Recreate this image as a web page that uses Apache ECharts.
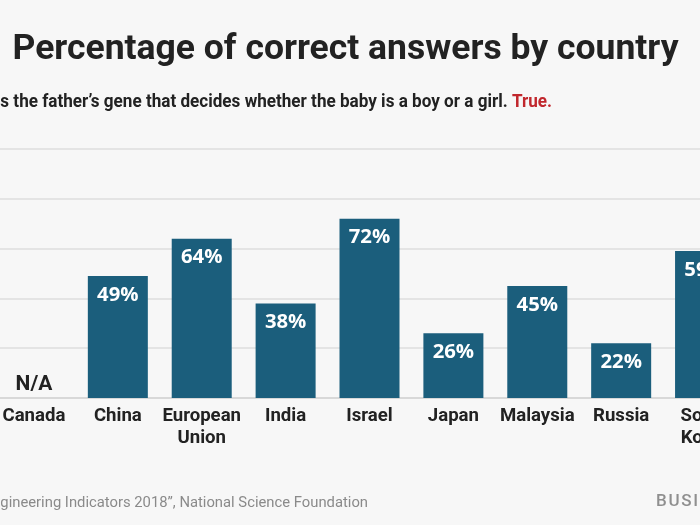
<!DOCTYPE html>
<html>
<head>
<meta charset="utf-8">
<script src="https://cdn.jsdelivr.net/npm/echarts@6/dist/echarts.min.js"></script>
<style>
  html, body { margin: 0; padding: 0; width: 700px; height: 525px; overflow: hidden; background: #f7f7f7; }
  #chart { position: absolute; left: -100px; top: 0; width: 900px; height: 525px; }
</style>
</head>
<body>
<div id="chart"></div>
<script>
// ---- data ----
const categories = ['Canada', 'China', 'European\nUnion', 'India', 'Israel', 'Japan', 'Malaysia', 'Russia', 'South\nKorea'];
const values = [null, 49, 64, 38, 72, 26, 45, 22, 59];
const yTicks = [0, 20, 40, 60, 80, 100];
const titleText = 'Percentage of correct answers by country';
const questionText = 'It is the father\u2019s gene that decides whether the baby is a boy or a girl.';
const answerText = 'True.';
const sourceText = 'Source: \u201cScience and Engineering Indicators 2018\u201d, National Science Foundation';
const logoText = 'B\u200aU\u200aS\u200aI\u200aN\u200aE\u200aS\u200aS\u2009 I\u200aN\u200aS\u200aI\u200aD\u200aE\u200aR';

// ---- chart ----
const OX = 100; // container offset (div is shifted left by this amount)
const chart = echarts.init(document.getElementById('chart'), null, { renderer: 'canvas' });

const barData = values.map(v => v === null
  ? { value: 0, label: { show: true, position: 'top', distance: 3, formatter: 'N/A',
      color: '#222222', fontFamily: 'Roboto', fontWeight: 'bold', fontSize: 21 } }
  : v);

const option = {
  backgroundColor: '#f7f7f7',
  animation: false,
  grid: { left: OX - 8, right: 900 - (OX + 747), top: 149, bottom: 525 - 398, containLabel: false, outerBoundsMode: 'none' },
  xAxis: {
    type: 'category',
    data: categories,
    axisLine: { show: true, lineStyle: { color: '#d8d8d8', width: 2 } },
    axisTick: { show: false },
    axisLabel: {
      interval: 0, margin: 7, color: '#222222', fontFamily: 'Roboto', fontWeight: 'bold',
      fontSize: 18.6, lineHeight: 22, align: 'center', verticalAlign: 'top'
    },
    splitLine: { show: false }
  },
  yAxis: {
    type: 'value',
    min: yTicks[0], max: yTicks[yTicks.length - 1], interval: yTicks[1] - yTicks[0],
    axisLine: { show: false }, axisTick: { show: false }, axisLabel: { show: false },
    splitLine: { show: true, lineStyle: { color: '#e4e4e4', width: 2 } }
  },
  series: [{
    type: 'bar',
    data: barData,
    barWidth: 60,
    itemStyle: { color: '#1b5e7c' },
    label: {
      show: true, position: 'insideTop', distance: 9, formatter: '{c}%',
      color: '#ffffff', fontFamily: 'Open Sans', fontWeight: 'bold', fontSize: 20.3
    }
  }],
  graphic: [
    { type: 'text', x: OX + 345.5, y: 50, silent: true,
      style: { text: titleText, font: 'bold 35.5px Roboto', fill: '#222222', textAlign: 'center', textVerticalAlign: 'middle' } },
    { type: 'text', x: OX + 552, y: 102, scaleX: 0.9, silent: true,
      style: {
        text: '{q|' + questionText + ' }{a|' + answerText + '}',
        textAlign: 'right', textVerticalAlign: 'middle',
        rich: {
          q: { fontFamily: 'Roboto', fontWeight: 'bold', fontSize: 19, fill: '#222222', color: '#222222' },
          a: { fontFamily: 'Roboto', fontWeight: 'bold', fontSize: 19, fill: '#c1272d', color: '#c1272d' }
        }
      } },
    { type: 'text', x: OX + 368, y: 503.5, silent: true,
      style: { text: sourceText, font: '14.8px Roboto', fill: '#8a8a8a', textAlign: 'right', textVerticalAlign: 'middle' } },
    { type: 'text', x: OX + 656, y: 502, silent: true,
      style: { text: logoText, font: '500 17px Roboto', fill: '#8f8f8f', textAlign: 'left', textVerticalAlign: 'middle' } }
  ]
};
chart.setOption(option);
</script>
</body>
</html>
